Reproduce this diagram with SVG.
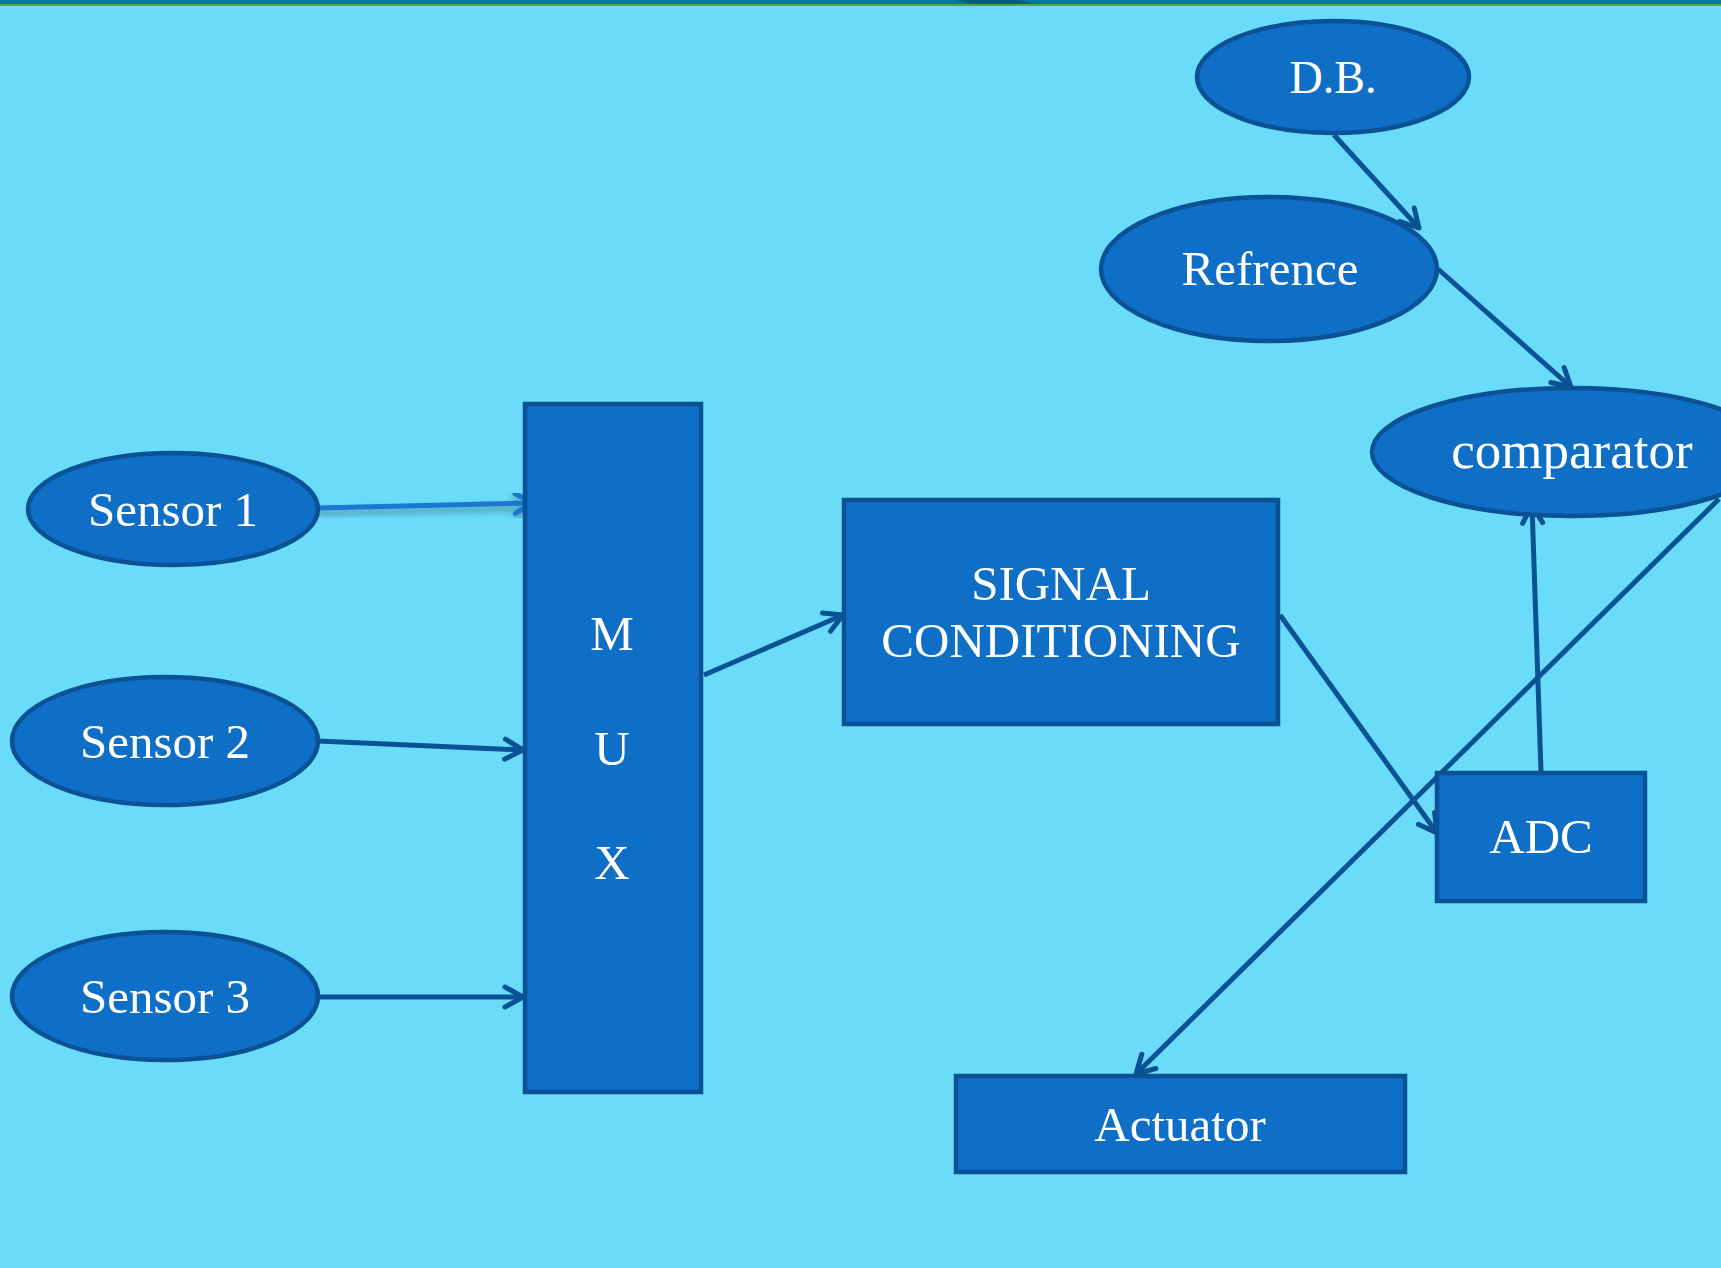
<svg xmlns="http://www.w3.org/2000/svg" width="1721" height="1268" viewBox="0 0 1721 1268">
<style>
.node{fill:#0F6FC6;stroke:#0B5294;stroke-width:4.5}
.lbl{font-family:"Liberation Serif","DejaVu Serif",serif;font-size:49px;fill:#FFFFFF;text-anchor:middle}
.conn{stroke:#0B5294;stroke-width:5;fill:none;marker-end:url(#arr)}
</style>
<defs>
<marker id="arr" markerUnits="userSpaceOnUse" viewBox="0 0 26 26" refX="23" refY="13" markerWidth="26" markerHeight="26" orient="auto">
<path d="M5,3 L23,13 L5,23" fill="none" stroke="#0B5294" stroke-width="5" stroke-linecap="round" stroke-linejoin="round"/>
</marker>
<marker id="arr2" markerUnits="userSpaceOnUse" viewBox="0 0 26 26" refX="23" refY="13" markerWidth="26" markerHeight="26" orient="auto">
<path d="M5,3 L23,13 L5,23" fill="none" stroke="#1A78CF" stroke-width="5" stroke-linecap="round" stroke-linejoin="round"/>
</marker>
<filter id="shadow" x="-10%" y="-200%" width="120%" height="500%">
<feDropShadow dx="0" dy="5" stdDeviation="3" flood-color="#2A5A70" flood-opacity="0.5"/>
</filter>
</defs>
<rect x="0" y="0" width="1721" height="1268" fill="#6ADBF8"/>
<rect x="0" y="0" width="1721" height="4" fill="#037A96"/>
<rect x="0" y="4" width="1721" height="2" fill="#5E9F44"/>
<polygon points="955,0 1020,0 1035,4 970,4" fill="#055E78"/>
<g id="connectors">
<line x1="318" y1="508" x2="533" y2="503" stroke="#1A78CF" stroke-width="5" marker-end="url(#arr2)" filter="url(#shadow)"/>
<line class="conn" x1="318" y1="741" x2="523" y2="750"/>
<line class="conn" x1="318" y1="997" x2="523" y2="997"/>
<line class="conn" x1="704" y1="675" x2="843" y2="615"/>
<line class="conn" x1="1280" y1="615" x2="1437" y2="833"/>
<line class="conn" x1="1541" y1="772" x2="1532" y2="505"/>
<line class="conn" x1="1719" y1="499" x2="1136" y2="1074"/>
<line class="conn" x1="1334" y1="135" x2="1419" y2="228"/>
<line class="conn" x1="1438" y1="269" x2="1571" y2="387"/>
</g>
<g id="db"><ellipse class="node" cx="1333" cy="77" rx="136" ry="56"/><text class="lbl" x="1333" y="93" style="font-size:46px">D.B.</text></g>
<g id="refrence"><ellipse class="node" cx="1269" cy="269" rx="168" ry="72"/><text class="lbl" x="1270" y="285">Refrence</text></g>
<g id="comparator"><ellipse class="node" cx="1572" cy="452" rx="200" ry="64"/><text class="lbl" x="1572" y="468" style="font-size:53px">comparator</text></g>
<g id="sensor1"><ellipse class="node" cx="173" cy="509" rx="145" ry="56"/><text class="lbl" x="173" y="526">Sensor 1</text></g>
<g id="sensor2"><ellipse class="node" cx="165" cy="741" rx="153" ry="64"/><text class="lbl" x="165" y="758">Sensor 2</text></g>
<g id="sensor3"><ellipse class="node" cx="165" cy="996" rx="153" ry="64"/><text class="lbl" x="165" y="1013">Sensor 3</text></g>
<g id="mux"><rect class="node" x="525" y="404" width="176" height="688"/>
<text class="lbl" x="612" y="650">M</text><text class="lbl" x="612" y="765">U</text><text class="lbl" x="612" y="879">X</text></g>
<g id="signal"><rect class="node" x="844" y="500" width="434" height="224"/>
<text class="lbl" x="1061" y="600">SIGNAL</text><text class="lbl" x="1061" y="657">CONDITIONING</text></g>
<g id="adc"><rect class="node" x="1437" y="773" width="208" height="128"/><text class="lbl" x="1541" y="853">ADC</text></g>
<g id="actuator"><rect class="node" x="956" y="1076" width="449" height="96"/><text class="lbl" x="1180" y="1141">Actuator</text></g>
</svg>
